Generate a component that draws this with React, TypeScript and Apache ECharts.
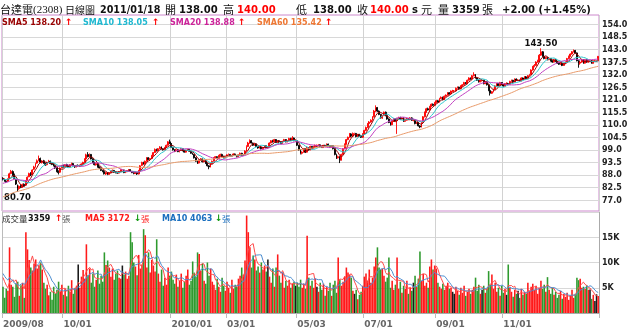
import { useEffect, useRef } from "react";
import * as echarts from "echarts";

// 60 closes before the first visible day (only used for the moving averages)
const preCloses = [
  69.5, 70.0, 69.2, 68.8, 69.6, 70.5, 71.0, 70.2, 69.8, 70.6,
  71.5, 72.0, 71.4, 72.2, 73.0, 73.8, 73.2, 72.6, 73.5, 74.2,
  74.8, 74.0, 75.5, 76.5, 77.2, 76.6, 77.5, 78.5, 79.2, 78.6,
  79.5, 80.2, 79.6, 80.5, 81.2, 80.6, 81.5, 82.2, 81.6, 82.0,
  81.5, 80.8, 81.6, 82.2, 81.4, 82.5, 83.0, 82.4, 83.5, 84.2,
  84.8, 85.2, 84.5, 85.5, 86.2, 85.6, 86.5, 87.0, 86.2, 86.8,
];

const opens = [
  86.5, 85.8, 85.2, 85.2, 86.5, 88.6, 89.5, 88.2, 86.0, 83.5,
  82.0, 83.2, 82.6, 83.9, 83.5, 85.6, 87.2, 88.8, 88.2, 90.5,
  91.5, 93.2, 94.5, 95.2, 93.4, 94.2, 93.0, 92.5, 93.6, 94.0,
  93.0, 92.8, 92.0, 91.0, 89.6, 89.2, 91.2, 92.2, 91.6, 92.6,
  92.0, 91.5, 92.6, 93.0, 92.0, 91.6, 92.2, 91.8, 92.0, 92.8,
  93.6, 95.0, 97.0, 96.0, 97.0, 95.0, 93.5, 92.4, 93.0, 91.5,
  91.0, 90.0, 89.5, 88.4, 89.0, 88.2, 89.0, 89.5, 90.0, 89.3,
  89.0, 88.8, 89.5, 90.2, 90.2, 89.0, 89.4, 89.8, 90.3, 89.5,
  89.0, 88.6, 89.0, 88.4, 90.0, 92.2, 93.5, 92.8, 94.0, 95.5,
  94.8, 95.2, 96.5, 97.8, 99.2, 98.6, 99.5, 100.2, 99.4, 99.0,
  100.0, 101.0, 102.5, 101.8, 100.0, 99.0, 98.5, 99.0, 98.2, 98.8,
  99.5, 98.6, 98.0, 98.8, 99.2, 98.4, 97.5, 97.0, 95.5, 94.0,
  93.2, 94.5, 95.0, 93.8, 94.2, 93.0, 92.0, 91.5, 93.0, 94.0,
  95.5, 96.0, 95.2, 96.5, 97.0, 96.2, 95.5, 96.0, 96.8, 97.0,
  96.2, 96.5, 97.2, 96.5, 96.0, 96.8, 97.5, 96.6, 97.0, 98.5,
  100.5, 102.0, 103.0, 102.0, 101.0, 101.5, 100.5, 99.8, 100.2, 99.5,
  100.0, 100.8, 100.0, 100.0, 102.0, 103.0, 102.5, 103.5, 102.2, 103.0,
  102.5, 101.8, 102.8, 103.5, 102.5, 103.0, 104.0, 103.2, 104.2, 103.0,
  103.0, 101.0, 99.0, 97.5, 98.0, 99.5, 98.0, 100.0, 99.0, 100.5,
  99.8, 100.5, 101.0, 101.0, 101.2, 100.5, 100.0, 101.0, 100.6, 101.5,
  100.8, 100.2, 100.8, 99.5, 97.0, 95.5, 96.0, 94.5, 97.0, 99.5,
  101.5, 103.5, 104.5, 106.0, 105.0, 106.2, 106.2, 104.8, 105.8, 105.0,
  104.5, 106.0, 107.5, 108.8, 110.5, 111.2, 112.0, 113.5, 116.0, 117.5,
  116.0, 114.5, 113.0, 114.0, 115.5, 114.0, 112.5, 111.0, 110.0, 111.5,
  112.5, 111.8, 112.8, 113.2, 112.5, 113.0, 111.5, 112.0, 112.8, 112.2,
  113.0, 112.0, 112.0, 110.5, 111.0, 109.5, 109.0, 111.0, 113.5, 115.5,
  117.0, 116.5, 118.0, 119.0, 118.5, 119.8, 120.5, 120.0, 121.5, 122.0,
  121.0, 122.5, 123.0, 124.0, 123.5, 124.8, 124.8, 124.8, 126.0, 126.5,
  125.8, 127.0, 127.5, 128.5, 128.0, 129.5, 130.5, 130.0, 131.5, 132.0,
  130.5, 129.5, 128.8, 129.5, 129.5, 128.0, 128.8, 127.5, 125.0, 123.8,
  124.5, 125.5, 127.0, 128.0, 127.2, 128.5, 127.5, 127.0, 128.0, 128.0,
  127.8, 129.0, 129.5, 128.8, 130.0, 129.5, 129.5, 129.2, 130.5, 130.0,
  131.0, 130.2, 131.5, 132.0, 134.0, 135.5, 136.0, 137.5, 138.0, 140.5,
  142.0, 140.0, 139.0, 139.5, 138.5, 139.0, 138.0, 137.5, 138.5, 137.8,
  137.0, 136.5, 137.0, 136.0, 136.8, 137.5, 139.0, 140.0, 141.0, 142.0,
  142.5, 141.5, 138.0, 137.0, 137.5, 138.5, 137.0, 138.5, 137.5, 138.0,
  138.0, 137.0, 138.0, 138.0, 138.0,
];

const closes = [
  86.0, 85.3, 85.0, 86.2, 88.5, 89.6, 88.0, 86.5, 84.0, 82.0,
  83.0, 82.5, 83.8, 83.2, 85.5, 87.0, 88.6, 88.0, 90.2, 91.5,
  93.0, 94.2, 95.0, 93.6, 94.0, 93.2, 92.5, 93.5, 94.0, 93.0,
  92.6, 92.0, 91.0, 89.5, 89.0, 91.0, 92.0, 91.5, 92.5, 92.0,
  91.5, 92.5, 93.0, 92.0, 91.5, 92.0, 92.0, 92.3, 92.8, 93.5,
  95.0, 96.8, 96.0, 97.0, 95.0, 93.5, 92.5, 93.0, 91.5, 91.0,
  90.0, 89.5, 88.5, 89.0, 88.2, 89.0, 89.5, 90.0, 89.3, 89.0,
  88.8, 89.5, 90.2, 90.2, 89.0, 89.4, 89.8, 90.3, 89.5, 89.0,
  88.6, 89.0, 88.4, 90.0, 92.0, 93.5, 92.8, 94.0, 95.5, 94.8,
  95.2, 96.5, 97.8, 99.2, 98.6, 99.5, 100.2, 99.4, 99.0, 100.0,
  101.0, 102.5, 101.8, 100.0, 99.0, 98.5, 99.0, 98.2, 98.8, 99.5,
  98.6, 98.0, 98.8, 99.2, 98.4, 97.5, 97.0, 95.5, 94.0, 93.2,
  94.5, 95.0, 93.8, 94.2, 93.0, 92.0, 91.5, 93.0, 94.0, 95.5,
  96.0, 95.2, 96.5, 97.0, 96.2, 95.5, 96.0, 96.8, 97.0, 96.2,
  96.5, 97.2, 96.5, 96.0, 96.8, 97.5, 96.6, 97.0, 98.5, 100.5,
  102.0, 103.0, 102.0, 101.0, 101.5, 100.5, 99.8, 100.2, 99.5, 100.0,
  100.8, 100.0, 100.0, 102.0, 103.0, 102.5, 103.5, 102.2, 103.0, 102.5,
  101.8, 102.8, 103.5, 102.5, 103.0, 104.0, 103.2, 104.2, 103.0, 103.0,
  101.0, 99.0, 97.5, 98.0, 99.5, 98.0, 100.0, 99.0, 100.5, 99.8,
  100.5, 101.0, 101.0, 101.2, 100.5, 100.0, 101.0, 100.6, 101.5, 100.8,
  100.2, 100.8, 99.5, 97.0, 95.5, 96.0, 94.5, 97.0, 99.5, 101.5,
  103.5, 104.5, 106.0, 105.0, 106.2, 106.2, 104.8, 105.8, 105.0, 104.5,
  106.0, 107.5, 108.8, 110.5, 111.2, 112.0, 113.5, 116.0, 117.5, 116.0,
  114.5, 113.0, 114.0, 115.5, 114.0, 112.5, 111.0, 110.0, 111.5, 112.5,
  111.8, 112.8, 113.2, 112.5, 113.0, 111.5, 112.0, 112.8, 112.2, 113.0,
  112.0, 112.0, 110.5, 111.0, 109.5, 109.0, 111.0, 113.5, 115.5, 117.0,
  116.5, 118.0, 119.0, 118.5, 119.8, 120.5, 120.0, 121.5, 122.0, 121.0,
  122.5, 123.0, 124.0, 123.5, 124.8, 124.8, 124.8, 126.0, 126.5, 125.8,
  127.0, 127.5, 128.5, 128.0, 129.5, 130.5, 130.0, 131.5, 132.0, 130.5,
  129.5, 128.8, 129.5, 129.5, 128.0, 128.8, 127.5, 125.0, 123.8, 124.5,
  125.5, 127.0, 128.0, 127.2, 128.5, 127.5, 127.0, 128.0, 128.0, 127.8,
  129.0, 129.5, 128.8, 130.0, 129.5, 129.5, 129.2, 130.5, 130.0, 131.0,
  130.2, 131.5, 132.0, 134.0, 135.5, 136.0, 137.5, 138.0, 140.5, 142.0,
  140.0, 139.0, 139.5, 138.5, 139.0, 138.0, 137.5, 138.5, 137.8, 137.0,
  136.5, 137.0, 136.0, 136.8, 137.5, 139.0, 140.0, 141.0, 142.0, 142.5,
  141.5, 138.0, 137.0, 137.5, 138.5, 137.0, 138.5, 137.5, 138.0, 138.0,
  137.0, 138.0, 138.0, 138.0, 140.0,
];

const highs = [
  87.0, 86.2, 85.8, 86.5, 89.0, 90.2, 90.0, 88.6, 86.3, 83.8,
  83.4, 83.6, 84.2, 84.3, 85.8, 87.4, 89.0, 89.2, 90.5, 92.0,
  93.4, 94.8, 96.5, 95.6, 94.5, 94.6, 93.4, 93.8, 94.6, 94.3,
  93.3, 93.0, 92.3, 91.3, 90.0, 91.3, 92.4, 92.5, 92.8, 92.9,
  92.3, 92.7, 93.4, 93.3, 92.3, 92.3, 92.6, 92.5, 93.1, 93.8,
  95.3, 97.3, 98.0, 97.4, 97.2, 95.3, 93.8, 93.4, 93.2, 91.8,
  91.3, 90.3, 89.8, 89.3, 89.3, 89.2, 89.8, 90.4, 90.2, 89.6,
  89.3, 89.7, 90.5, 90.5, 90.3, 89.7, 90.0, 90.6, 90.5, 89.7,
  89.2, 89.3, 89.2, 90.2, 92.3, 93.8, 93.8, 94.3, 95.8, 95.8,
  95.5, 96.8, 98.0, 99.6, 99.5, 99.8, 100.6, 100.5, 99.7, 100.3,
  101.3, 102.8, 103.5, 102.0, 100.3, 99.3, 99.3, 99.2, 99.0, 99.8,
  99.7, 98.8, 99.0, 99.5, 99.4, 98.6, 97.8, 97.2, 95.8, 94.3,
  94.8, 95.4, 95.2, 94.5, 94.4, 93.2, 92.3, 93.2, 94.3, 95.8,
  96.3, 96.2, 96.8, 97.3, 97.3, 96.4, 96.2, 97.0, 97.4, 97.2,
  96.8, 97.5, 97.4, 96.7, 97.0, 97.8, 97.7, 97.2, 98.8, 101.0,
  102.5, 103.6, 103.3, 102.2, 101.8, 101.7, 100.7, 100.5, 100.4, 100.3,
  101.1, 101.0, 100.5, 102.3, 103.3, 103.4, 103.8, 103.7, 103.3, 103.2,
  102.7, 103.0, 103.8, 103.7, 103.2, 104.3, 104.3, 105.0, 104.4, 103.3,
  103.2, 101.2, 99.3, 98.4, 99.8, 99.8, 100.4, 100.2, 100.8, 100.7,
  100.8, 101.3, 101.3, 101.5, 101.4, 100.7, 101.2, 101.2, 101.8, 101.7,
  101.0, 101.0, 101.0, 99.7, 97.3, 96.5, 96.2, 97.3, 99.8, 101.8,
  103.8, 104.8, 106.4, 106.3, 106.6, 106.5, 106.4, 106.0, 106.0, 105.3,
  106.3, 107.8, 109.2, 110.8, 111.6, 112.4, 113.8, 116.5, 118.5, 117.8,
  116.3, 114.8, 114.3, 115.8, 115.8, 114.3, 112.8, 111.3, 111.8, 112.8,
  112.8, 113.0, 113.5, 113.5, 113.3, 113.3, 112.3, 113.0, 113.0, 113.3,
  113.3, 112.3, 112.3, 111.3, 111.2, 109.8, 111.3, 113.8, 115.8, 117.4,
  117.5, 118.3, 119.3, 119.3, 120.0, 120.8, 120.8, 121.8, 122.4, 122.3,
  122.8, 123.3, 124.3, 124.3, 125.0, 125.3, 125.2, 126.3, 126.8, 126.7,
  127.3, 127.8, 128.8, 128.7, 129.8, 130.8, 130.7, 131.8, 133.0, 132.2,
  130.7, 129.7, 129.8, 129.8, 129.7, 129.0, 129.0, 127.7, 125.3, 124.8,
  125.8, 127.3, 128.3, 128.2, 128.8, 128.7, 127.8, 128.3, 128.6, 128.4,
  129.3, 129.8, 129.7, 130.3, 130.3, 130.0, 129.8, 130.8, 130.7, 131.3,
  131.3, 131.8, 132.3, 134.3, 135.8, 136.6, 137.8, 138.5, 141.0, 143.5,
  142.3, 140.3, 139.8, 139.7, 139.3, 139.2, 138.3, 138.8, 138.7, 138.0,
  137.3, 137.3, 137.2, 137.0, 137.8, 139.3, 140.3, 141.3, 142.3, 143.0,
  142.8, 141.7, 138.3, 137.8, 138.8, 138.7, 138.8, 138.7, 138.3, 138.5,
  138.4, 138.2, 138.5, 138.3, 140.0,
];

const lows = [
  85.6, 85.0, 84.5, 84.9, 86.2, 88.3, 87.6, 86.2, 83.6, 80.7,
  81.5, 82.2, 82.3, 83.0, 83.2, 85.3, 87.0, 87.5, 87.9, 90.2,
  91.2, 92.9, 94.0, 93.2, 93.0, 92.9, 92.0, 92.2, 93.2, 92.7,
  92.3, 91.7, 90.6, 89.2, 88.2, 88.9, 90.9, 91.2, 91.3, 91.7,
  91.2, 91.3, 92.3, 91.8, 91.1, 91.3, 91.7, 91.5, 91.8, 92.5,
  93.4, 94.8, 95.7, 95.8, 94.8, 93.2, 92.2, 92.1, 91.2, 90.6,
  89.7, 89.2, 88.2, 88.0, 87.9, 88.0, 88.8, 89.3, 89.0, 88.7,
  88.5, 88.6, 89.3, 89.8, 88.8, 88.8, 89.2, 89.6, 89.3, 88.8,
  88.3, 88.4, 88.0, 88.2, 89.8, 91.9, 92.5, 92.5, 93.8, 94.5,
  94.5, 95.0, 96.3, 97.6, 98.3, 98.4, 99.3, 99.2, 98.7, 98.8,
  99.8, 100.8, 101.5, 99.8, 98.7, 98.0, 98.2, 98.0, 97.9, 98.6,
  98.4, 97.8, 97.8, 98.6, 98.2, 97.3, 96.8, 95.2, 93.8, 92.8,
  93.0, 94.2, 93.5, 93.5, 92.8, 91.7, 90.5, 91.3, 92.8, 93.8,
  95.2, 95.0, 95.0, 96.3, 96.0, 95.3, 95.3, 95.8, 96.5, 96.0,
  96.0, 96.3, 96.3, 95.7, 95.8, 96.6, 96.4, 96.3, 96.8, 98.3,
  100.2, 101.7, 101.8, 100.7, 100.8, 100.3, 99.5, 99.6, 99.2, 99.3,
  99.8, 99.7, 99.6, 99.8, 101.8, 102.2, 102.3, 102.0, 102.0, 102.2,
  101.5, 101.6, 102.6, 102.3, 102.3, 102.8, 103.0, 103.0, 102.8, 102.6,
  100.7, 98.7, 97.0, 97.0, 97.8, 97.6, 97.8, 98.7, 98.8, 99.5,
  99.6, 100.3, 100.6, 100.8, 100.3, 99.8, 99.8, 100.4, 100.4, 100.6,
  100.0, 100.0, 99.2, 96.6, 95.0, 95.2, 93.2, 94.3, 96.8, 99.3,
  101.3, 103.2, 104.3, 104.7, 104.8, 105.6, 104.5, 104.6, 104.8, 104.2,
  104.2, 105.7, 107.2, 108.5, 110.2, 110.9, 111.8, 113.2, 115.6, 115.6,
  114.2, 112.7, 112.6, 113.8, 113.7, 112.2, 110.7, 109.6, 109.8, 111.2,
  111.5, 106.0, 112.5, 112.2, 112.3, 111.2, 111.2, 111.8, 112.0, 112.0,
  111.7, 111.5, 110.2, 110.3, 109.2, 108.5, 108.8, 110.8, 113.2, 115.2,
  116.2, 116.2, 117.8, 118.2, 118.3, 119.5, 119.7, 119.8, 121.3, 120.7,
  120.8, 122.2, 122.8, 123.2, 123.3, 124.4, 124.5, 124.6, 125.8, 125.5,
  125.5, 126.7, 127.3, 127.7, 127.8, 129.3, 129.7, 129.8, 131.2, 130.2,
  129.2, 128.5, 128.6, 128.9, 127.7, 127.8, 127.2, 124.7, 122.8, 123.5,
  124.2, 125.3, 126.8, 127.0, 127.0, 127.3, 126.7, 126.8, 127.6, 127.5,
  127.6, 128.8, 128.5, 128.6, 129.3, 129.3, 129.0, 129.0, 129.8, 129.8,
  130.0, 130.0, 131.3, 131.8, 133.7, 135.2, 135.8, 137.2, 137.8, 140.2,
  139.7, 138.7, 138.7, 138.2, 138.3, 137.7, 137.2, 137.3, 137.5, 136.7,
  136.2, 136.2, 135.7, 135.8, 136.6, 137.3, 138.8, 139.8, 140.7, 141.7,
  141.2, 137.8, 135.0, 136.3, 137.2, 136.7, 136.8, 137.2, 137.2, 137.7,
  136.8, 136.8, 137.7, 137.6, 138.0,
];

// 9 volumes before the first visible day (only used for the volume averages)
const preVolumes = [8600, 9200, 7400, 8000, 9800, 7200, 8400, 6800, 7600];

const volumes = [
  5200, 3000, 4800, 4400, 13000, 5600, 5200, 3200, 5800, 6200,
  3400, 5500, 6000, 3000, 16000, 12600, 10500, 9000, 8400, 9800,
  10600, 8800, 9400, 10000, 8600, 6000, 4800, 5600, 3500, 4200,
  2600, 5200, 3800, 4600, 6200, 4300, 5600, 3600, 4800, 3300,
  5400, 4200, 6500, 3800, 4900, 5400, 9600, 5000, 7200, 8500,
  6800, 13600, 7500, 8800, 6000, 7800, 5200, 6600, 8400, 5800,
  7400, 6200, 12000, 9500, 10400, 9000, 7200, 8800, 6600, 7800,
  8400, 7000, 6800, 9400, 7600, 8200, 6800, 7400, 16000, 14000,
  10000, 9200, 7500, 11500, 8800, 9600, 16600, 15400, 9000, 12000,
  8000, 10500, 9400, 8200, 14600, 7800, 6200, 8600, 5400, 7000,
  5600, 9000, 7400, 8200, 6600, 5800, 7600, 5200, 6400, 7800,
  5000, 6200, 7400, 8600, 5600, 6400, 10200, 8000, 7200, 12000,
  11700, 8400, 9800, 6400, 5800, 10000, 7400, 8800, 6200, 5600,
  4600, 6800, 5200, 4200, 7000, 5400, 4400, 6200, 5000, 4000,
  6600, 4800, 5600, 5200, 6800, 7400, 9000, 7600, 10400, 19300,
  16000, 13000, 9000, 11400, 10600, 8400, 9200, 8000, 10000, 8600,
  9400, 8200, 10600, 7200, 6000, 8800, 5200, 9000, 11600, 7400,
  6000, 8000, 5000, 6400, 5400, 6600, 5000, 5800, 6200, 5400,
  6000, 5200, 6600, 5000, 5800, 4800, 15300, 7000, 5400, 6400,
  5000, 6800, 5200, 4200, 6000, 4600, 5800, 3400, 5200, 4400,
  6000, 3400, 5600, 6400, 4000, 11000, 6600, 5400, 6200, 7200,
  9000, 8000, 7600, 7000, 4400, 3800, 4600, 2700, 3600, 4200,
  5400, 7200, 7800, 6400, 8600, 6000, 7000, 9200, 11000, 13000,
  9000, 8600, 8800, 7400, 6200, 7000, 11000, 5000, 6400, 4600,
  5600, 11000, 4800, 6200, 4000, 5400, 4800, 6400, 3800, 5000,
  4400, 6000, 7400, 5200, 6800, 12200, 6400, 7800, 5400, 6000,
  5000, 9200, 10600, 8600, 9400, 8800, 6000, 5200, 4800, 5800,
  4600, 5400, 6000, 4800, 5000, 4200, 3800, 5200, 4400, 3600,
  5000, 4000, 5400, 3400, 4200, 4800, 3800, 4600, 5200, 7000,
  4400, 5600, 3800, 4600, 5400, 4000, 4800, 8300, 5600, 7600,
  4800, 6000, 4200, 5000, 3400, 5400, 4000, 4800, 3600, 9600,
  5000, 4200, 3200, 4600, 3800, 4400, 3000, 4800, 3600, 4200,
  3800, 6000, 4400, 5200, 5800, 4600, 5400, 3800, 5000, 6400,
  4800, 5600, 4200, 7100, 4600, 3800, 5000, 3600, 4200, 3000,
  3600, 4400, 2800, 3800, 3200, 4000, 2600, 3400, 4600, 3000,
  3800, 7000, 6500, 6800, 5000, 5200, 4800, 5500, 4600, 4670,
  2800, 3600, 2400, 3701, 3359,
];

const tickIndex = [0, 37, 103, 137, 180, 221, 265, 306];
const tickLabels = ["2009/08", "10/01", "2010/01", "03/01", "05/03", "07/01", "09/01", "11/01"];
const priceTicks = [77, 82.5, 88, 93.5, 99, 104.5, 110, 115.5, 121, 126.5, 132, 137.5, 143, 148.5, 154];
const PRICE_MIN = 72.2;
const PRICE_MAX = 158.1;

const UP = "#ff0000";
const DOWN = "#000000";
const VOL_UP = "#ff1a1a";
const VOL_DOWN = "#2e9a2e";
const VOL_FLAT = "#1a1a1a";

function movingAverage(src: number[], lead: number, n: number) {
  return closes.map((_, i) => {
    const end = i + lead;
    const start = end - n + 1;
    if (start < 0) return null;
    let s = 0;
    for (let k = start; k <= end; k++) s += src[k];
    return +(s / n).toFixed(3);
  });
}

const SANS = '"DejaVu Sans", "Noto Sans CJK TC", sans-serif';
const CJK = '"Noto Sans CJK TC", "DejaVu Sans", sans-serif';

function txt(x: number, y: number, text: string, fill: string, size: number, weight = "bold", family = SANS) {
  return {
    type: "text",
    x,
    y,
    silent: true,
    z: 100,
    style: { text, fill, fontSize: size, fontWeight: weight, fontFamily: family, verticalAlign: "middle", align: "left" },
  };
}

export default function App() {
  const ref = useRef<HTMLDivElement>(null);

  useEffect(() => {
    if (!ref.current) return;
    const chart = echarts.init(ref.current, undefined, { renderer: "svg" });

    const allCloses = preCloses.concat(closes);
    const allVolumes = preVolumes.concat(volumes);
    const cats = closes.map((_, i) => String(i));
    const tickSet = new Set(tickIndex);
    const isTick = (i: number) => tickSet.has(i);
    const labelAt = new Map(tickIndex.map((idx, k) => [idx, tickLabels[k]]));

    const candles = closes.map((c, i) => [opens[i], c, lows[i], highs[i]]);
    const volData = volumes.map((v, i) => {
      const prev = i === 0 ? preCloses[preCloses.length - 1] : closes[i - 1];
      const c = closes[i];
      const color = c > prev ? VOL_UP : c < prev ? VOL_DOWN : VOL_FLAT;
      return { value: v, itemStyle: { color } };
    });

    const lead = preCloses.length;
    const vlead = preVolumes.length;

    const maLine = (data: any, color: string, xi: number, width = 1) => ({
      type: "line",
      xAxisIndex: xi,
      yAxisIndex: xi,
      data,
      symbol: "none",
      silent: true,
      lineStyle: { color, width },
      z: 5,
    });

    const axisText = { color: "#222", fontSize: 8, fontWeight: "bold", fontFamily: "DejaVu Sans", margin: 3 };

    chart.setOption({
      animation: false,
      grid: [
        { left: 2, top: 15, width: 597, height: 196, show: true, borderColor: "#cc88cc", borderWidth: 1, backgroundColor: "transparent" },
        { left: 2, top: 212, width: 597, height: 101, show: false },
      ],
      xAxis: [
        {
          type: "category", gridIndex: 0, data: cats, boundaryGap: true,
          axisLine: { show: false }, axisTick: { show: false }, axisLabel: { show: false },
          splitLine: { show: true, interval: isTick, lineStyle: { color: "#d2d2d2", width: 1 } },
        },
        {
          type: "category", gridIndex: 1, data: cats, boundaryGap: true,
          axisLine: { show: true, lineStyle: { color: "#aaaaaa" } },
          axisTick: { show: true, interval: isTick, length: 5, lineStyle: { color: "#bbbbbb" } },
          axisLabel: {
            show: true, interval: isTick,
            formatter: (_v: string, idx: number) => labelAt.get(idx) ?? "",
            align: "left", margin: 6, color: "#666", fontWeight: "bold", fontSize: 9, fontFamily: "DejaVu Sans",
          },
          splitLine: { show: true, interval: isTick, lineStyle: { color: "#d2d2d2", width: 1 } },
        },
      ],
      yAxis: [
        {
          type: "value", gridIndex: 0, position: "right", min: PRICE_MIN, max: PRICE_MAX,
          axisLine: { show: false },
          axisTick: { show: false, customValues: priceTicks },
          axisLabel: { ...axisText, customValues: priceTicks, formatter: (v: number) => v.toFixed(1) },
          splitLine: { show: true, lineStyle: { color: "#d8d8d8", width: 1 } },
        },
        {
          type: "value", gridIndex: 1, position: "right", min: 0, max: 20000, interval: 5000,
          axisLine: { show: true, lineStyle: { color: "#aaaaaa" } },
          axisTick: { show: false },
          axisLabel: { ...axisText, formatter: (v: number) => (v > 0 && v < 20000 ? v / 1000 + "K" : "") },
          splitLine: { show: true, lineStyle: { color: "#d8d8d8", width: 1 } },
        },
        {
          type: "value", gridIndex: 1, position: "left", min: 0, max: 20000,
          axisLine: { show: true, onZero: false, lineStyle: { color: "#bbbbbb" } },
          axisTick: { show: false }, axisLabel: { show: false }, splitLine: { show: false },
        },
      ],
      series: [
        {
          type: "candlestick",
          xAxisIndex: 0,
          yAxisIndex: 0,
          data: candles,
          barWidth: 1.4,
          silent: true,
          itemStyle: { color: UP, color0: DOWN, borderColor: UP, borderColor0: DOWN, borderWidth: 0.9 },
          markPoint: {
            symbol: "circle",
            symbolSize: 1,
            itemStyle: { color: "transparent" },
            label: {
              show: true, color: "#111", fontSize: 8.5, fontWeight: "bold", fontFamily: "DejaVu Sans",
              formatter: (p: any) => Number(p.value).toFixed(2),
            },
            data: [
              { type: "max", valueDim: "highest", label: { position: "top", distance: 0 } },
              { type: "min", valueDim: "lowest", label: { position: "bottom", distance: 0 } },
            ],
          },
          z: 3,
        },
        maLine(movingAverage(allCloses, lead, 5), "#990000", 0),
        maLine(movingAverage(allCloses, lead, 10), "#2cc6cc", 0),
        maLine(movingAverage(allCloses, lead, 20), "#c040c0", 0),
        maLine(movingAverage(allCloses, lead, 60), "#e89a6a", 0),
        {
          type: "bar",
          xAxisIndex: 1,
          yAxisIndex: 1,
          data: volData,
          barCategoryGap: "4%",
          silent: true,
          z: 2,
        },
        maLine(movingAverage(allVolumes, vlead, 5), "#ff4a4a", 1),
        maLine(movingAverage(allVolumes, vlead, 10), "#4f8fd0", 1),
      ],
      graphic: [
        txt(0, 9, "台達電", "#111", 11, "normal", CJK),
        txt(33, 9, "(2308)", "#111", 11, "normal", '"Liberation Serif", serif'),
        txt(65, 9, "日線圖", "#111", 10, "normal", CJK),
        txt(100, 9, "2011/01/18", "#111", 9.6),
        txt(165, 9, "開", "#111", 11, "normal", CJK),
        txt(179, 9, "138.00", "#111", 10),
        txt(223, 9, "高", "#111", 11, "normal", CJK),
        txt(237, 9, "140.00", "#ff0000", 10),
        txt(296, 9, "低", "#111", 11, "normal", CJK),
        txt(313, 9, "138.00", "#111", 10),
        txt(357, 9, "收", "#111", 11, "normal", CJK),
        txt(370, 9, "140.00", "#ff0000", 10),
        txt(412, 9, "s", "#111", 10),
        txt(421, 9, "元", "#111", 11, "normal", CJK),
        txt(438, 9, "量", "#111", 11, "normal", CJK),
        txt(452, 9, "3359", "#111", 10),
        txt(482, 9, "張", "#111", 11, "normal", CJK),
        txt(502, 9, "+2.00 (+1.45%)", "#111", 10),

        txt(2, 22, "SMA5 138.20", "#990000", 8),
        txt(65, 22, "↑", "#ff0000", 9),
        txt(83, 22, "SMA10 138.05", "#1fb8d0", 8),
        txt(152, 22, "↑", "#ff0000", 9),
        txt(170, 22, "SMA20 138.88", "#cc2299", 8),
        txt(238, 22, "↑", "#ff0000", 9),
        txt(257, 22, "SMA60 135.42", "#ee7733", 8),
        txt(325, 22, "↑", "#ff0000", 9),

        txt(2, 218, "成交量", "#333", 8.5, "normal", CJK),
        txt(28, 218, "3359", "#111", 8),
        txt(55, 218, "↑", "#ff0000", 9),
        txt(62, 218, "張", "#555", 8.5, "normal", CJK),
        txt(85, 218, "MA5 3172", "#ff1a1a", 8),
        txt(134, 218, "↓", "#119911", 9),
        txt(141, 218, "張", "#ff1a1a", 8.5, "normal", CJK),
        txt(162, 218, "MA10 4063", "#1a6fbf", 8),
        txt(215, 218, "↓", "#119911", 9),
        txt(222, 218, "張", "#1a6fbf", 8.5, "normal", CJK),
      ],
    });

    return () => chart.dispose();
  }, []);

  return <div ref={ref} style={{ position: "fixed", left: 0, top: 0, width: 640, height: 330 }} />;
}
